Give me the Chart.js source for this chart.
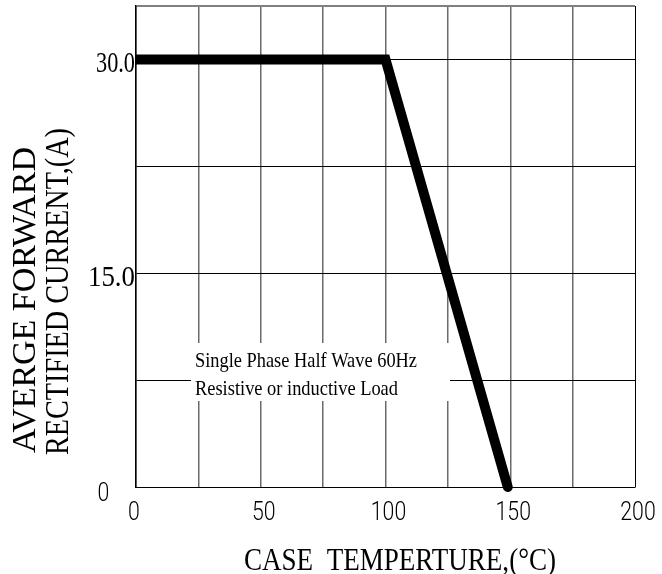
<!DOCTYPE html>
<html>
<head>
<meta charset="utf-8">
<script src="https://cdn.jsdelivr.net/npm/chart.js@4.4.1/dist/chart.umd.min.js"></script>
<style>
  html, body { margin: 0; padding: 0; background: #fff; }
  #wrap { width: 662px; height: 574px; }
</style>
</head>
<body>
<div id="wrap"><canvas id="derating" width="662" height="574"></canvas></div>
<script>
// derating curve: case temperature (C) vs average forward current (A)
const tempC = [0, 100, 149];
const currentA = [30, 30, 0];

const xTickValues = [0, 50, 100, 150, 200];
const yTickValues = [0, 15, 30];
const yTickText = ['0', '15.0', '30.0'];

const yTitle = ['AVERGE FORWARD', 'RECTIFIED CURRENT,(A)'];
const xTitle = 'CASE  TEMPERTURE,(\u00B0C)';
const noteLines = ['Single Phase Half Wave 60Hz', 'Resistive or inductive Load'];

const SERIF = '"Liberation Serif", "Times New Roman", serif';
const SANS = 'Roboto, "DejaVu Sans", sans-serif';

// text helper, squeezes horizontally (w = target width, k = scale factor)
function txt(ctx, s, x, y, font, align, opt = {}) {
  ctx.save();
  ctx.font = font;
  ctx.translate(x, y);
  if (opt.rot) ctx.rotate(opt.rot);
  let sx = opt.k || 1;
  if (opt.w) sx = opt.w / ctx.measureText(s).width;
  ctx.scale(sx, 1);
  ctx.textAlign = align;
  ctx.textBaseline = 'alphabetic';
  ctx.fillStyle = '#000';
  ctx.fillText(s, 0, 0);
  ctx.restore();
}

const textPlugin = {
  id: 'datasheetText',
  beforeDatasetsDraw(chart) {
    // white box behind the note, hides the grid
    const ctx = chart.ctx;
    ctx.save();
    ctx.fillStyle = '#fff';
    ctx.fillRect(191, 343, 259, 58);
    ctx.restore();
  },
  afterDraw(chart) {
    const ctx = chart.ctx;
    const xs = chart.scales.x, ys = chart.scales.y;

    // y tick labels
    yTickValues.forEach((v, i) => {
      const py = ys.getPixelForValue(v);
      if (v === 0) {
        txt(ctx, yTickText[i], 103.5, py + 14, '300 25px ' + SANS, 'center', { k: 0.85 });
      } else {
        txt(ctx, yTickText[i], 135, py + 12.5, '30px ' + SERIF, 'right', { w: v === 30 ? 39 : 47 });
      }
    });

    // x tick labels
    xTickValues.forEach(v => {
      const px = xs.getPixelForValue(v);
      txt(ctx, String(v), v === 0 ? px - 2 : px + 3, 519.5, '300 25px ' + SANS, 'center', { k: 0.85 });
    });

    // axis titles
    txt(ctx, yTitle[0], 35, 300, '33px ' + SERIF, 'center', { rot: -Math.PI / 2, w: 306 });
    txt(ctx, yTitle[1], 68, 291.5, '33px ' + SERIF, 'center', { rot: -Math.PI / 2, w: 327 });
    txt(ctx, xTitle, 400, 570, '32px ' + SERIF, 'center', { w: 312 });

    // note
    txt(ctx, noteLines[0], 195, 367, '21px ' + SERIF, 'left', { w: 222 });
    txt(ctx, noteLines[1], 195, 395, '21px ' + SERIF, 'left', { w: 203 });
  }
};

new Chart(document.getElementById('derating'), {
  type: 'line',
  data: {
    datasets: [{
      data: tempC.map((t, i) => ({ x: t, y: currentA[i] })),
      borderColor: '#000',
      borderWidth: 10,
      borderCapStyle: 'round',
      borderJoinStyle: 'miter',
      pointRadius: 0,
      tension: 0,
      fill: false,
      clip: { left: 0, right: 6, top: 6, bottom: 6 }
    }]
  },
  options: {
    responsive: false,
    animation: false,
    devicePixelRatio: 1,
    layout: { padding: { left: 0, right: 27, top: 6, bottom: 0 } },
    plugins: { legend: { display: false }, tooltip: { enabled: false } },
    scales: {
      x: {
        type: 'linear', min: 0, max: 200,
        ticks: { stepSize: 25, display: false },
        grid: {
          drawTicks: false,
          color: c => c.tick && c.tick.value === 200 ? '#000' : '#6a6a6a',
          lineWidth: c => c.tick && c.tick.value === 200 ? 1 : 1.5
        },
        border: { color: '#000', width: 1 },
        afterFit: s => { s.height = 87; }
      },
      y: {
        type: 'linear', min: 0, max: 33.75,
        ticks: { stepSize: 7.5, display: false },
        grid: {
          drawTicks: false,
          color: c => c.tick && c.tick.value > 31 ? '#808080' : '#000',
          lineWidth: c => c.tick && c.tick.value > 31 ? 2 : 1
        },
        border: { color: '#000', width: 1.5 },
        afterFit: s => { s.width = 136; }
      }
    }
  },
  plugins: [textPlugin]
});
</script>
</body>
</html>
